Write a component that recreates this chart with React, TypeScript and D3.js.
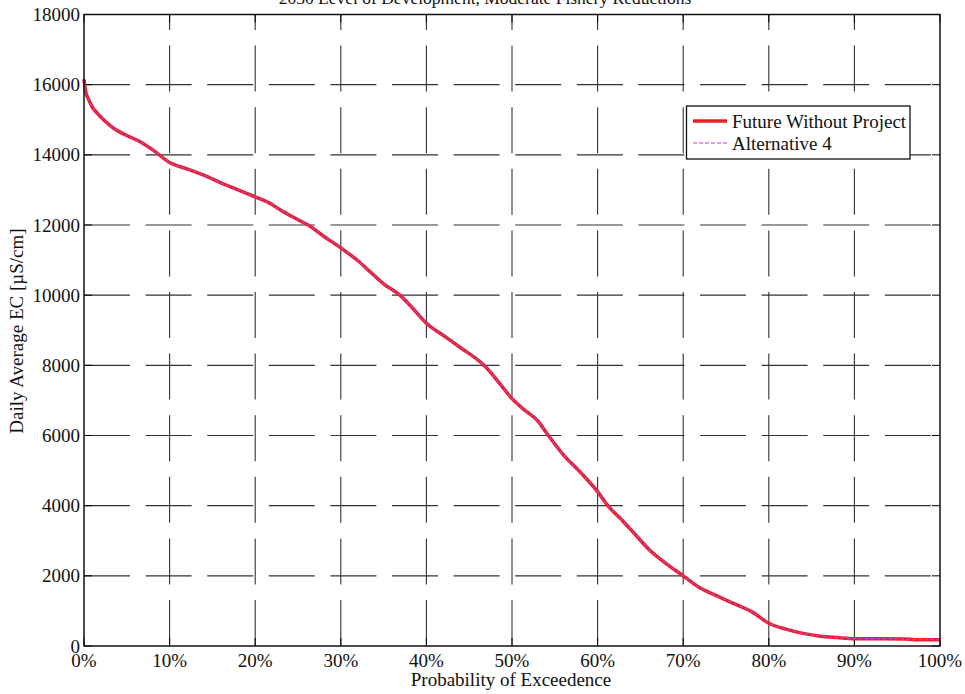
import React from "react";
import * as d3 from "d3";

const probPct = [0, 0.2, 0.5, 1.0, 1.5, 2.5, 3.5, 5, 6.5, 8, 10, 12, 14, 16, 18, 20, 21.5, 23, 25, 26.5, 28, 30, 32, 33.5, 35, 36.9, 38.5, 40, 42, 44, 46.5, 47.5, 48.5, 50, 51.5, 53, 54.1, 56, 58, 60, 61.2, 63, 64.5, 66, 68, 70, 72, 74, 76, 78, 80, 82, 84, 86, 88, 90, 93, 96, 97, 100];
const ecFuture = [16150, 15800, 15600, 15350, 15200, 14950, 14750, 14550, 14380, 14150, 13780, 13600, 13420, 13200, 13000, 12800, 12650, 12420, 12150, 11950, 11680, 11350, 10980, 10650, 10320, 10000, 9600, 9200, 8850, 8500, 8050, 7800, 7500, 7050, 6720, 6420, 6050, 5450, 4950, 4400, 4000, 3550, 3150, 2750, 2350, 2000, 1650, 1420, 1200, 980, 650, 480, 360, 280, 240, 210, 210, 200, 180, 180];
const ecAlt4 = ecFuture.slice();
const yTicks = [0, 2000, 4000, 6000, 8000, 10000, 12000, 14000, 16000, 18000];
const xTicks = [0, 10, 20, 30, 40, 50, 60, 70, 80, 90, 100];
const seriesNames = ["Future Without Project", "Alternative 4"];
const titleText = "2030 Level of Development, Moderate Fishery Reductions";

const W = 965, H = 694;
const L = 84, R = 940, T = 14.5, B = 646;
const font = "'Liberation Serif', 'Times New Roman', serif";
const FS = 19;

export default function App() {
  const x = d3.scaleLinear().domain([0, 100]).range([L, R]);
  const y = d3.scaleLinear().domain([0, 18000]).range([B, T]);
  const line = d3
    .line<number>()
    .x((_, i) => x(probPct[i]))
    .y((d) => y(d))
    .curve(d3.curveMonotoneX);
  return (
    <svg width={W} height={H} style={{ position: "absolute", left: 0, top: 0, background: "#fff" }} fontFamily={font}>
      <rect x={0} y={0} width={W} height={H} fill="#fff" />
      <text x={485} y={3.5} fontSize={17.5} textAnchor="middle" fill="#111">{titleText}</text>
      {/* grid */}
      {xTicks.slice(1, -1).map((t) => (
        <line key={"gx" + t} x1={x(t)} x2={x(t)} y1={B} y2={T} stroke="#333" strokeWidth={1.1} strokeDasharray="46,15.6" />
      ))}
      {yTicks.slice(1, -1).map((t) => (
        <line key={"gy" + t} x1={L} x2={R} y1={y(t)} y2={y(t)} stroke="#333" strokeWidth={1.1} strokeDasharray="46,15.6" />
      ))}
      {/* ticks */}
      {xTicks.map((t) => (
        <g key={"tx" + t}>
          <line x1={x(t)} x2={x(t)} y1={B} y2={B - 8} stroke="#000" />
          <line x1={x(t)} x2={x(t)} y1={T} y2={T + 8} stroke="#000" />
        </g>
      ))}
      {yTicks.map((t) => (
        <g key={"ty" + t}>
          <line x1={L} x2={L + 8} y1={y(t)} y2={y(t)} stroke="#000" />
          <line x1={R} x2={R - 8} y1={y(t)} y2={y(t)} stroke="#000" />
        </g>
      ))}
      {/* curves */}
      <path d={line(ecFuture) || ""} fill="none" stroke="#ee1c25" strokeWidth={3.5} strokeLinejoin="round" />
      <path d={line(ecAlt4) || ""} fill="none" stroke="#b548c8" strokeWidth={1.2} strokeDasharray="4,2" />
      {/* box */}
      <rect x={L} y={T} width={R - L} height={B - T} fill="none" stroke="#111" strokeWidth={1.5} />
      {/* tick labels */}
      {yTicks.map((t) => (
        <text key={"ly" + t} x={80} y={y(t) + 6.5} fontSize={FS} textAnchor="end" fill="#111">{t}</text>
      ))}
      {xTicks.map((t) => (
        <text key={"lx" + t} x={x(t)} y={667} fontSize={FS} textAnchor="middle" fill="#111">{t + "%"}</text>
      ))}
      <text x={511} y={686} fontSize={FS} textAnchor="middle" fill="#111">Probability of Exceedence</text>
      <text transform={`translate(23,${331}) rotate(-90)`} fontSize={FS} textAnchor="middle" fill="#111">Daily Average EC [µS/cm]</text>
      {/* legend */}
      <rect x={686.5} y={106} width={223.5} height={53} fill="#fff" stroke="#111" strokeWidth={1.3} />
      <line x1={693} x2={727} y1={121} y2={121} stroke="#ee1c25" strokeWidth={3.5} />
      <text x={732} y={127.5} fontSize={FS} fill="#111">{seriesNames[0]}</text>
      <line x1={693} x2={727} y1={143} y2={143} stroke="#d040c0" strokeWidth={1.2} strokeDasharray="4,2" />
      <text x={732} y={149.5} fontSize={FS} fill="#111">{seriesNames[1]}</text>
    </svg>
  );
}
